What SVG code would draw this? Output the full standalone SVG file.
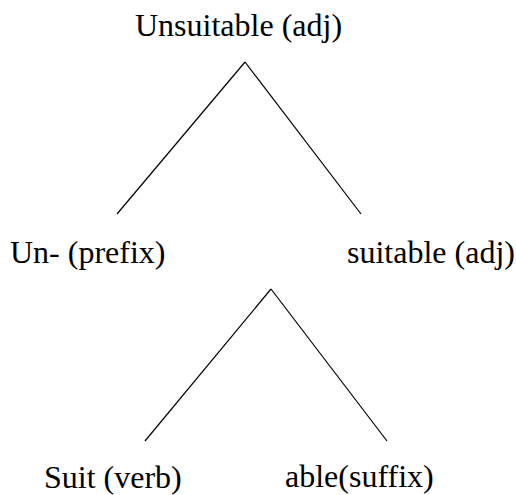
<svg xmlns="http://www.w3.org/2000/svg" width="516" height="495" viewBox="0 0 516 495">
  <defs>
    <style>
      .edge { stroke: #000; stroke-width: 1.2; fill: none; }
      .label { font-family: "Liberation Serif", "DejaVu Serif", serif; font-size: 32px; fill: #000; }
    </style>
  </defs>
  <rect width="516" height="495" fill="#fff"/>
  <!-- tree branches -->
  <g id="connectors">
    <line class="edge" x1="245" y1="62" x2="117" y2="214"/>
    <line class="edge" x1="245" y1="62" x2="361" y2="214"/>
    <line class="edge" x1="271" y1="289" x2="145" y2="441"/>
    <line class="edge" x1="271" y1="289" x2="387" y2="441"/>
  </g>
  <g id="unsuitable"><text class="label" x="135" y="36">Unsuitable (adj)</text></g>
  <g id="un-prefix"><text class="label" x="10" y="263">Un- (prefix)</text></g>
  <g id="suitable"><text class="label" x="347" y="263">suitable (adj)</text></g>
  <g id="suit-verb"><text class="label" x="44" y="488">Suit (verb)</text></g>
  <g id="able-suffix"><text class="label" x="285" y="487">able(suffix)</text></g>
</svg>
